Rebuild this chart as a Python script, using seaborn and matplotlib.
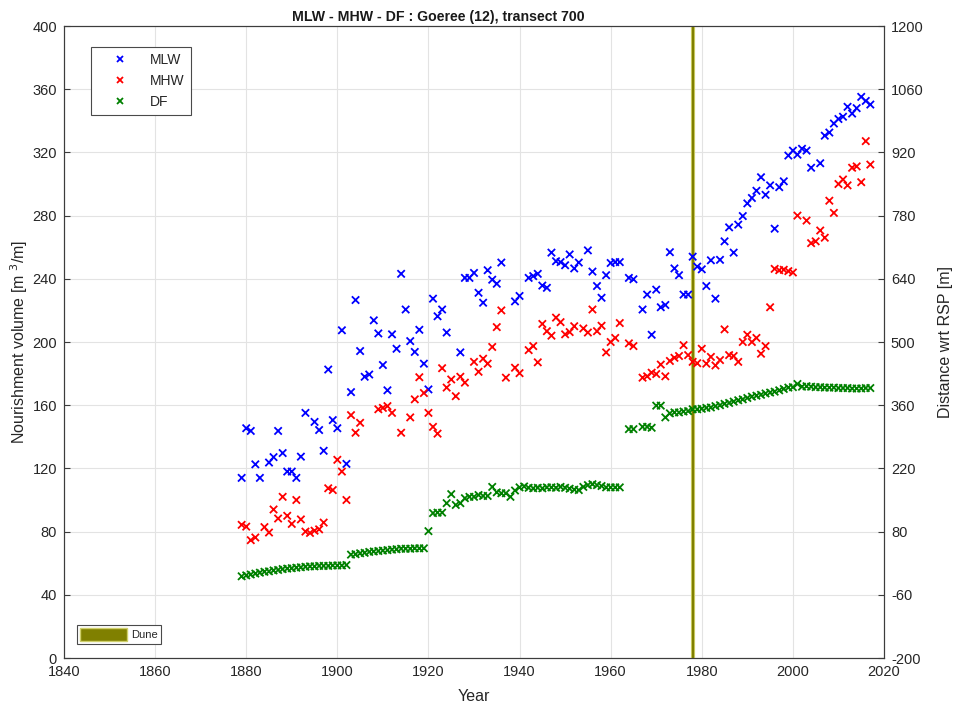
import numpy as np
import pandas as pd
import matplotlib
matplotlib.use("Agg")
import matplotlib.pyplot as plt
from matplotlib.patches import Patch
from matplotlib.lines import Line2D
import seaborn as sns

nan = np.nan

# Survey years of transect 700
years = list(range(1879, 2018))

# Cross-shore position of the MLW line, distance wrt RSP [m]
mlw = [199, 309, 303, 229, 199, nan, 233, 245, 303, 254,
       213, 213, 199, 246, 343, nan, 323, 305, 259, 439,
       327, 309, 526, 230, 389, 593, 480, 423, 428, 548,
       519, 449, 393, 517, 485, 651, 572, 502, 478, 527,
       452, 395, 596, 557, 572, 521, nan, nan, 477, 642,
       642, 653, 609, 587, 659, 638, 629, 676, nan, nan,
       590, 602, nan, 642, 646, 651, 625, 620, 698, 679,
       677, 670, 694, 663, 676, nan, 703, 656, 624, 598,
       648, 675, 677, 677, nan, 642, 639, nan, 572, 605,
       516, 616, 577, 582, 699, 663, 648, 605, 605, 689,
       667, 661, 624, 681, 596, 682, 723, 754, 698, 760,
       779, 807, 819, 835, 865, 826, 847, 751, 843, 856,
       913, 924, 915, 928, 924, 886, nan, 896, 957, 964,
       984, 994, 999, 1021, 1006, 1018, 1043, 1034, 1026]

# Cross-shore position of the MHW line, distance wrt RSP [m]
mhw = [95, 91, 61, 67, nan, 90, 78, 129, 109, 157,
       115, 97, 150, 107, 80, 77, 82, 85, 100, 176,
       172, 239, 213, 150, 338, 299, 321, nan, nan, nan,
       351, 354, 358, 343, nan, 299, nan, 333, 373, 422,
       387, 343, 312, 297, 442, 399, 417, 380, 423, 410,
       nan, 456, 434, 463, 452, 489, 533, 570, 421, nan,
       443, 431, nan, 482, 491, 455, 540, 524, 514, 554,
       544, 517, 522, 535, nan, 530, 521, 572, 524, 536,
       477, 500, 509, 542, nan, 497, 491, nan, 421, 424,
       432, 429, 450, 424, 458, 465, 469, 493, 471, 456,
       453, 485, 452, 467, 448, 460, 528, 471, 469, 456,
       500, 516, 500, 509, 474, 491, 577, 662, 659, 660,
       657, 654, 780, nan, 769, 719, 723, 747, 731, 813,
       786, 850, 860, 847, 886, 889, 854, 945, 893]

# Position of the dune foot, distance wrt RSP [m]
dune_foot = [-19, -17, -15, -13, -11, -9, -8, -6, -5, -3,
             -2, -1, 0, 1, 2, 3, 3, 4, 4, 4,
             5, 5, 5, 6, 29, 30, 32, 33, 35, 36,
             37, 38, 39, 40, 41, 42, 42, 42, 43, 43,
             43, 81, 121, 122, 122, 143, 163, 139, 143, 154,
             157, 157, 161, 159, 159, 179, 167, 165, 165, 157,
             171, 178, 180, 177, 176, 177, 176, 178, 178, 177,
             179, 177, 175, 173, 172, 179, 183, 185, 183, 181,
             178, 178, 178, 178, nan, 307, 307, nan, 312, 312,
             310, 359, 359, 333, 342, 344, 344, 346, 347, 351,
             351, 352, 354, 355, 358, 360, 363, 365, 368, 371,
             373, 376, 379, 381, 383, 386, 388, 390, 393, 396,
             399, 400, 407, 401, 402, 401, 400, 400, 399, 399,
             399, 398, 398, 398, 397, 397, 397, 398, 398]

series_names = ["MLW", "MHW", "DF"]
series_colors = {"MLW": "#0000ff", "MHW": "#ff0000", "DF": "#008000"}

# Dune nourishment
dune_year = 1978

x_ticks = list(range(1840, 2021, 20))
volume_ticks = list(range(0, 401, 40))
distance_ticks = list(range(-200, 1201, 140))

n = len(years)
data = pd.DataFrame({
    "Year": years * 3,
    "Distance": mlw + mhw + dune_foot,
    "Series": ["MLW"] * n + ["MHW"] * n + ["DF"] * n,
}).dropna()

sns.set_theme(style="white")
plt.rcParams["font.family"] = ["Liberation Sans", "DejaVu Sans"]
plt.rcParams["font.size"] = 10
plt.rcParams["axes.unicode_minus"] = False

text_color = "#262626"
axis_color = "#3c3c3c"
tick_size = 10.5
label_size = 11.5

fig = plt.figure(figsize=(9.56, 7.09), dpi=100)
ax = fig.add_axes([64 / 956, 1 - 658 / 709, 820 / 956, 632 / 709])
ax2 = ax.twinx()

# Left axis: nourishment volume
ax.set_xlim(1840, 2020)
ax.set_ylim(0, 400)
ax.set_xticks(x_ticks)
ax.set_yticks(volume_ticks)
ax.grid(True, color="#e3e3e3", linewidth=0.8)
ax.set_axisbelow(True)
ax.set_xlabel("Year", color=text_color, fontsize=label_size, labelpad=7)
ax.set_ylabel(r"Nourishment volume [m $^{3}$/m]", color=text_color,
              fontsize=label_size, labelpad=2)
fig.text(438 / 956, 1 - 17 / 709, "MLW - MHW - DF : Goeree (12), transect 700",
         ha="center", va="center", fontsize=10.2, fontweight="bold",
         color="#1a1a1a")

# Dune nourishment marker
ax.axvline(dune_year, color="#cfcf6a", linewidth=3.0, zorder=3)
ax.axvline(dune_year, color="#808000", linewidth=1.6, zorder=3)

# Right axis: cross-shore positions
sns.scatterplot(data=data, x="Year", y="Distance", hue="Series",
                hue_order=series_names, palette=series_colors,
                marker="x", s=28, linewidth=1.3, ax=ax2, legend=False,
                zorder=4)
ax2.set_ylim(-200, 1200)
ax2.set_yticks(distance_ticks)
ax2.set_ylabel("Distance wrt RSP [m]", color=text_color,
               fontsize=label_size, labelpad=10)
ax2.set_xlabel("")

for a in (ax, ax2):
    a.tick_params(direction="in", length=4, width=0.8, colors=axis_color,
                  labelcolor=text_color, labelsize=tick_size, pad=5)
    for sp in a.spines.values():
        sp.set_color(axis_color)
        sp.set_linewidth(0.8)
ax.tick_params(axis="y", right=False)
ax2.tick_params(axis="y", left=False)

# Legend for the positions
handles = [Line2D([0], [0], linestyle="none", marker="x", markersize=5,
                  markeredgewidth=1.3, color=series_colors[s])
           for s in series_names]
leg1 = ax2.legend(handles, series_names, loc="upper left",
                  bbox_to_anchor=(0.033, 0.967), borderaxespad=0,
                  fancybox=False, framealpha=1, edgecolor="#4a4a4a",
                  fontsize=10, handlelength=3.2, handletextpad=0.6,
                  borderpad=0.45, labelspacing=0.5)
leg1.get_frame().set_linewidth(0.8)
for t in leg1.get_texts():
    t.set_color(text_color)
ax2.add_artist(leg1)

# Legend for the nourishment type
leg2 = ax2.legend([Patch(facecolor="#808000", edgecolor="#cfcf6a", linewidth=1)],
                  ["Dune"], loc="lower left", bbox_to_anchor=(0.016, 0.022),
                  borderaxespad=0, fancybox=False, framealpha=1,
                  edgecolor="#4a4a4a", fontsize=8, handlelength=4.2,
                  handleheight=1.5, handletextpad=0.4, borderpad=0.25)
leg2.get_frame().set_linewidth(0.8)
for t in leg2.get_texts():
    t.set_color(text_color)

fig.savefig("out.png", dpi=100)
